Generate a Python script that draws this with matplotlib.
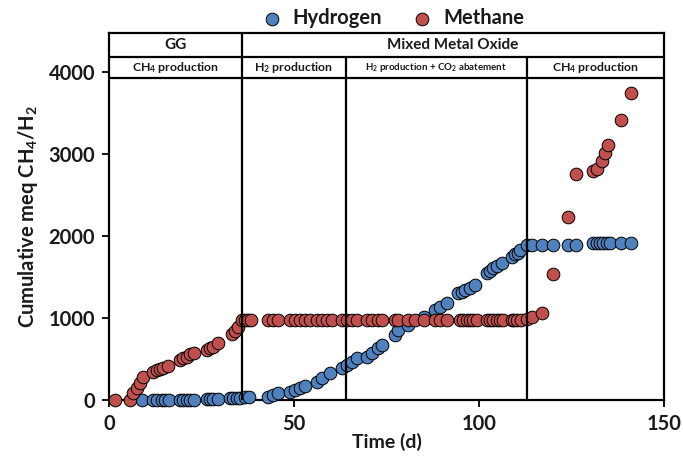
import matplotlib
matplotlib.use("Agg")
import matplotlib.pyplot as plt

plt.rcParams['font.family'] = ['Lato', 'DejaVu Sans']
plt.rcParams['font.weight'] = 'bold'
plt.rcParams['mathtext.fontset'] = 'custom'
plt.rcParams['mathtext.rm'] = 'Lato:bold'
plt.rcParams['mathtext.it'] = 'Lato:bold:italic'
plt.rcParams['mathtext.bf'] = 'Lato:bold'

# Methane (cumulative meq)
ch4_t = [1.6, 5.7, 6.6, 7.5, 8.4, 9.1, 12.0, 12.9, 13.8, 14.7, 16.0,
         19.2, 20.1, 21.0, 21.9, 23.0, 26.4, 27.3, 28.2, 29.5, 33.2, 34.1, 34.9,
         35.9, 36.8, 37.7, 38.3,
         43.1, 44.4, 45.8, 48.9, 50.3, 51.6, 53.0, 54.3, 56.1, 57.5, 58.8, 60.2,
         62.9, 64.2, 65.6, 66.9, 69.6, 71.0, 72.8, 73.7, 77.3, 78.2,
         80.9, 82.7, 85.0, 88.1, 89.5, 91.3, 94.9, 95.8, 96.7, 97.6, 98.5, 99.4,
         102.1, 103.0, 103.9, 104.8, 105.7, 106.6, 108.8, 109.5, 110.4, 111.3,
         112.9, 114.2, 116.9,
         120.1, 124.1, 126.2, 130.9, 132.0, 133.2, 134.1, 134.9, 138.4, 141.1]
ch4_v = [0, 0, 90, 150, 210, 285, 345, 360, 375, 390, 415,
         488, 510, 530, 555, 577, 610, 630, 650, 695, 805, 840, 894,
         970, 975, 975, 975,
         975, 975, 975, 975, 975, 975, 975, 975, 975, 975, 975, 975,
         975, 975, 975, 975, 975, 975, 975, 975, 975, 975,
         975, 975, 975, 975, 975, 975, 975, 975, 975, 975, 975, 975,
         975, 975, 975, 975, 975, 975, 975, 975, 975, 975,
         990, 1010, 1060,
         1533, 2236, 2752, 2797, 2817, 2919, 3008, 3110, 3411, 3744]

# Hydrogen (cumulative meq)
h2_t = [8.8, 12.0, 13.0, 14.2, 15.1, 16.2, 19.2, 20.1, 21.0, 21.9, 23.0,
        26.4, 27.3, 28.2, 29.5, 32.7, 33.6, 34.5, 35.4, 36.8, 37.9,
        43.1, 44.4, 45.8, 48.9, 50.3, 51.6, 53.0, 56.1, 57.5, 59.7,
        62.9, 64.2, 65.6, 66.9, 69.6, 71.0, 72.8, 73.9, 77.3, 78.2,
        80.9, 85.0, 88.1, 89.5, 91.3, 94.4, 95.3, 96.2, 97.6, 98.9,
        102.1, 103.0, 103.9, 104.8, 106.1, 108.8, 109.7, 110.6, 111.0,
        112.9, 114.2, 116.9, 120.1, 124.1, 126.2,
        130.9, 131.8, 132.7, 133.6, 134.5, 135.3, 138.4, 141.1]
h2_v = [5, 5, 5, 5, 5, 5, 5, 5, 5, 5, 5,
        10, 10, 10, 10, 25, 25, 30, 30, 35, 40,
        41, 61, 81, 102, 122, 142, 171, 224, 264, 325,
        386, 427, 468, 508, 528, 569, 630, 671, 793, 854,
        915, 1016, 1098, 1138, 1179, 1301, 1321, 1341, 1362, 1398,
        1545, 1577, 1606, 1638, 1667, 1748, 1776, 1797, 1829,
        1890, 1890, 1890, 1890, 1890, 1890,
        1911, 1911, 1911, 1911, 1911, 1911, 1911, 1911]

# Phase table
phase_bounds = [0, 36, 64, 113, 150]
phase_labels = ['CH$_4$ production', 'H$_2$ production',
                'H$_2$ production + CO$_2$ abatement', 'CH$_4$ production']
phase_sizes = [8.8, 8.8, 7, 8.8]
group_labels = ['GG', 'Mixed Metal Oxide']
group_bounds = [0, 36, 150]

BLUE = '#4F81BD'
RED = '#C0504D'
TXT = '#1a1a1a'

fig = plt.figure(figsize=(6.83, 4.57), dpi=100)
ax = fig.add_axes([109/683, 57/457, 555/683, 367/457])

YTOP = 4476
ROW1 = 4183
ROW2 = 3927

ax.scatter(h2_t, h2_v, s=83, c=BLUE, edgecolors='black', linewidths=0.7,
           zorder=3, label='Hydrogen', clip_on=False)
ax.scatter(ch4_t, ch4_v, s=83, c=RED, edgecolors='black', linewidths=0.7,
           zorder=4, label='Methane', clip_on=False)

ax.set_xlim(0, 150)
ax.set_ylim(0, YTOP)
ax.set_xticks([0, 50, 100, 150])
ax.set_yticks([0, 1000, 2000, 3000, 4000])
ax.tick_params(direction='out', length=5, width=1.3, labelsize=14.5, pad=5)
for lab in ax.get_xticklabels() + ax.get_yticklabels():
    lab.set_fontweight('bold')
    lab.set_color(TXT)
for sp in ax.spines.values():
    sp.set_linewidth(1.6)

# table lines
lw = 1.6
ax.axhline(ROW1, color='black', lw=lw, zorder=5)
ax.axhline(ROW2, color='black', lw=lw, zorder=5)
ax.vlines(phase_bounds[1], 0, YTOP, color='black', lw=lw, zorder=5)
for b in phase_bounds[2:-1]:
    ax.vlines(b, 0, ROW1, color='black', lw=lw, zorder=5)

for i, g in enumerate(group_labels):
    xc = (group_bounds[i] + group_bounds[i + 1]) / 2
    ax.text(xc, (YTOP + ROW1) / 2, g, ha='center', va='center',
            fontsize=11, fontweight='bold', color=TXT)
for i, p in enumerate(phase_labels):
    xc = (phase_bounds[i] + phase_bounds[i + 1]) / 2
    ax.text(xc, (ROW1 + ROW2) / 2 + 5, p, ha='center', va='center',
            fontsize=phase_sizes[i], fontweight='bold', color=TXT)

ax.set_xlabel('Time (d)', fontsize=14, fontweight='bold', labelpad=-1,
              color=TXT)
ax.set_ylabel('Cumulative meq CH$_4$/H$_2$', fontsize=14.5, fontweight='bold',
              labelpad=6, color=TXT)

leg = fig.legend(loc='center', bbox_to_anchor=(388/683, 1 - 18/457), ncol=2,
                 frameon=False, fontsize=14.5, handletextpad=0.05,
                 columnspacing=1.0, markerscale=1.0, borderaxespad=0)
for t in leg.get_texts():
    t.set_fontweight('bold')
    t.set_color(TXT)

fig.savefig('out.png', dpi=100)
